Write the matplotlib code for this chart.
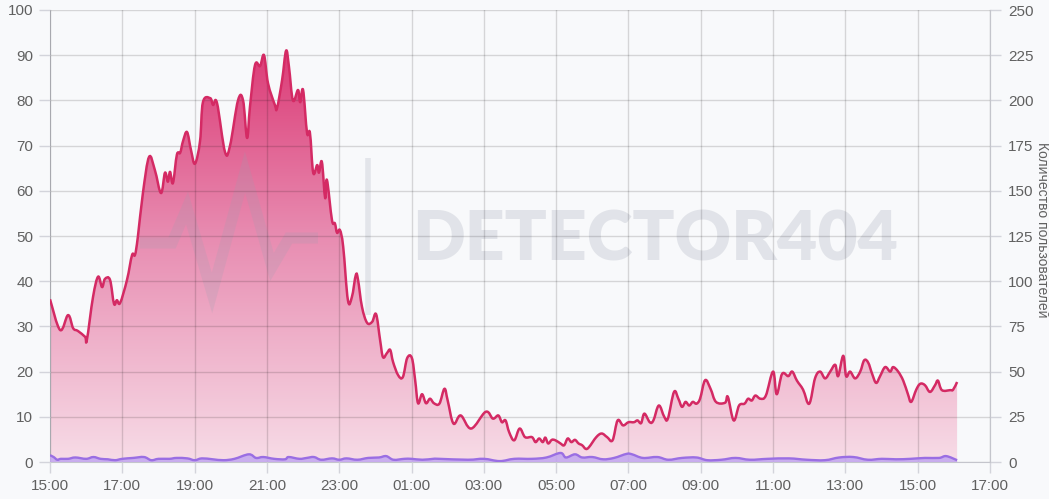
import numpy as np
import matplotlib.pyplot as plt
from matplotlib.colors import LinearSegmentedColormap
from matplotlib.patches import PathPatch
from matplotlib.path import Path

# hours since 15:00, left-axis values
hours = [0.00, 0.28, 0.50, 0.64, 0.77, 0.97, 1.02, 1.19, 1.33, 1.44, 1.52, 1.66, 1.77, 1.85, 1.94,
         2.13, 2.27, 2.35, 2.43, 2.57, 2.74, 2.90, 3.07, 3.18, 3.26, 3.32, 3.40, 3.51, 3.60, 3.68,
         3.79, 3.90, 4.01, 4.15, 4.23, 4.43, 4.51, 4.62, 4.84, 4.98, 5.20, 5.34, 5.45, 5.53, 5.67,
         5.81, 5.92, 6.03, 6.22, 6.28, 6.42, 6.53, 6.61, 6.72, 6.86, 6.92, 7.00, 7.11, 7.19, 7.28,
         7.39, 7.44, 7.52, 7.61, 7.66, 7.80, 7.88, 7.94, 8.02, 8.11, 8.24, 8.35, 8.46, 8.52, 8.63,
         8.77, 8.91, 9.02, 9.13, 9.21, 9.32, 9.41, 9.49, 9.63, 9.76, 9.88, 10.01, 10.10, 10.18, 10.29,
         10.40, 10.51, 10.62, 10.77, 10.91, 11.00, 11.16, 11.36, 11.65, 12.05, 12.25, 12.40, 12.50, 12.60, 12.70,
         12.84, 12.99, 13.14, 13.33, 13.43, 13.53, 13.63, 13.70, 13.78, 13.88, 13.98, 14.12, 14.22, 14.32, 14.42,
         14.52, 14.62, 14.72, 14.82, 14.91, 15.11, 15.26, 15.41, 15.56, 15.70, 15.85, 16.00, 16.15, 16.25, 16.35,
         16.44, 16.59, 16.69, 16.84, 16.99, 17.09, 17.26, 17.38, 17.48, 17.58, 17.68, 17.78, 17.88, 17.98, 18.12,
         18.27, 18.42, 18.67, 18.75, 18.91, 19.06, 19.21, 19.31, 19.41, 19.51, 19.65, 19.80, 20.00, 20.10, 20.25,
         20.42, 20.53, 20.66, 20.83, 21.00, 21.16, 21.30, 21.44, 21.58, 21.72, 21.80, 21.94, 22.02, 22.13, 22.27,
         22.41, 22.52, 22.63, 22.74, 22.85, 22.96, 23.10, 23.24, 23.32, 23.46, 23.60, 23.73, 23.82, 23.96, 24.07,
         24.20, 24.34, 24.48, 24.56, 24.67, 24.90, 24.98, 25.09]
visits = [36, 29.2, 32.5, 29.6, 29, 27.7, 27, 36.5, 41, 38.7, 40.5, 40.3, 35, 35.8, 35.2,
          40.3, 45.8, 45.8, 49.8, 59.5, 67.5, 64.6, 59.5, 64, 62, 64.2, 61.7, 68, 68.4, 71,
          73, 69, 66, 71, 79.6, 80.5, 79, 79.4, 68.6, 70, 80, 80, 71.7, 78.5, 87.8,
          87.6, 90, 83.8, 79, 78.3, 84.5, 91, 87.4, 80, 82.3, 79.6, 82.3, 72.8, 72.8, 64,
          65.7, 64, 66.4, 58.4, 62.4, 53.5, 52.8, 50.7, 51.3, 47.6, 35.8, 36.5, 41.4, 40.3, 34.3,
          30.8, 31, 32.7, 27, 23.2, 24.1, 24.8, 22.1, 19.2, 18.8, 23, 23, 18.1, 13, 15,
          13, 14, 13, 12.9, 16.2, 13.6, 8.5, 10.3, 7.4, 11.1, 9.6, 10.3, 8.8, 9.2, 6.6,
          4.8, 7.4, 5.5, 5.5, 4.4, 5.2, 4.4, 5.4, 4.1, 4.9, 4.8, 4.1, 3.7, 5.2, 4.4,
          4.9, 4.1, 3.7, 2.9, 3.3, 5.5, 6.3, 5.5, 4.8, 9.2, 8.1, 8.8, 8.8, 9.2, 8.6,
          10.7, 8.8, 9.2, 12.5, 10.0, 9.6, 15.5, 14.0, 12.2, 13.3, 12.5, 13.3, 12.9, 14.0, 18.1,
          16.2, 13.3, 13.1, 14.4, 9.2, 12.5, 12.9, 14.0, 13.6, 14.7, 14.0, 14.7, 20, 15, 19.5,
          19, 20, 18, 16, 12.9, 18.5, 20, 18.5, 20, 21.5, 19, 23.5, 19, 20, 18.5,
          20, 22.5, 22, 19.5, 17.5, 19, 21, 20, 21, 20, 18, 15, 13.3, 16, 17.3,
          17, 15.5, 17, 18, 15.9, 15.9, 16, 17.7]

users_t = [0.0, 0.1, 0.2, 0.3, 0.5, 0.7, 1.0, 1.2, 1.4, 1.6, 1.8, 2.0, 2.3, 2.6, 2.8,
           3.0, 3.3, 3.5, 3.8, 4.0, 4.2, 4.5, 4.8, 5.1, 5.5, 5.7, 5.9, 6.2, 6.5, 6.6,
           6.9, 7.1, 7.3, 7.5, 7.8, 8.0, 8.2, 8.5, 8.8, 9.1, 9.3, 9.5, 9.8, 10.0, 10.3,
           10.6, 10.77, 11.56, 12.0, 12.44, 12.84, 13.33, 13.73, 14.12, 14.27, 14.52, 14.72, 15.0, 15.3, 15.6,
           15.95, 16.1, 16.4, 16.8, 17.1, 17.48, 17.88, 18.18, 18.57, 18.96, 19.36, 19.85, 20.44, 20.93, 21.43,
           21.83, 22.22, 22.62, 23.01, 23.4, 23.8, 24.2, 24.59, 24.79, 25.09]
users = [1.5, 1.1, 0.5, 0.7, 0.7, 1.0, 0.7, 1.1, 0.7, 0.6, 0.4, 0.7, 0.9, 1.1, 0.4,
         0.7, 0.7, 0.9, 0.8, 0.4, 0.8, 0.6, 0.4, 0.7, 1.7, 0.9, 1.1, 0.7, 0.6, 1.1,
         0.7, 0.9, 1.1, 0.5, 0.8, 0.5, 0.8, 0.5, 0.9, 1.0, 1.3, 0.5, 0.7, 0.7, 0.5,
         0.7, 0.7, 0.5, 0.7, 0.2, 0.7, 0.7, 1.0, 2.0, 1.0, 1.7, 1.0, 1.1, 0.6, 0.9,
         1.8, 1.7, 0.9, 1.1, 0.5, 0.9, 1.0, 0.4, 0.5, 0.9, 0.5, 0.7, 0.8, 0.5, 0.4,
         1.0, 1.1, 0.5, 0.7, 0.6, 0.7, 0.9, 0.9, 1.3, 0.4]

x_ticks = list(range(0, 27, 2))
x_labels = ['15:00', '17:00', '19:00', '21:00', '23:00', '01:00', '03:00', '05:00',
            '07:00', '09:00', '11:00', '13:00', '15:00', '17:00']
left_ticks = list(range(0, 101, 10))
right_ticks = list(range(0, 251, 25))

bg = '#f8f9fb'
txt_c = '#606060'
plt.rcParams['font.family'] = ['Liberation Sans', 'DejaVu Sans']


def smooth_path(x, y, k=0.18, close=False):
    # curved line through the points (bezier segments, like chart.js tension)
    p = np.column_stack([x, y]).astype(float)
    n = len(p)
    verts = [p[0]]
    codes = [Path.MOVETO]
    for i in range(n - 1):
        a = p[i - 1] if i > 0 else p[i]
        b = p[i + 2] if i + 2 < n else p[i + 1]
        c1 = p[i] + (p[i + 1] - a) * k
        c2 = p[i + 1] - (b - p[i]) * k
        verts += [c1, c2, p[i + 1]]
        codes += [Path.CURVE4] * 3
    if close:
        verts += [(x[-1], 0), (x[0], 0), p[0]]
        codes += [Path.LINETO, Path.LINETO, Path.CLOSEPOLY]
    return Path(verts, codes)


fig = plt.figure(figsize=(10.49, 4.99), dpi=100, facecolor=bg)
ax = fig.add_axes([50/1049, 37/499, 940/1049, 452/499])
ax.set_facecolor(bg)

# gradient fill under the main series
cmap = LinearSegmentedColormap.from_list('pk', ['#f7dce7', '#e88cb1', '#d92a6a'])
grad = np.linspace(0, 1, 256).reshape(-1, 1)
im = ax.imshow(grad, extent=[0, 26, 0, 100], origin='lower', aspect='auto', cmap=cmap, zorder=1)
clip = PathPatch(smooth_path(hours, visits, close=True), transform=ax.transData,
                 facecolor='none', edgecolor='none')
ax.add_patch(clip)
im.set_clip_path(clip)
ax.add_patch(PathPatch(smooth_path(hours, visits), facecolor='none', edgecolor='#d42a64',
                       lw=1.8, zorder=4, joinstyle='round'))

ax.add_patch(PathPatch(smooth_path(users_t, users, close=True), facecolor='#c2a6f0',
                       alpha=0.85, lw=0, zorder=3))
ax.add_patch(PathPatch(smooth_path(users_t, users), facecolor='none', edgecolor='#9a6ee3',
                       lw=1.7, zorder=4))

# watermark
wm = dict(transform=ax.transAxes, zorder=2)
ax.text(0.6436, 0.49, 'DETECTOR404', fontsize=50, family='Lato', fontweight='heavy',
        color='#9aa0b0', alpha=0.24, ha='center', va='center', **wm)
px = np.array([140, 172, 187, 212, 245, 272, 289, 318])
py = np.array([243, 243, 208, 293, 172, 267, 238, 238])
ax.plot((px - 50) / 940, (462 - py) / 452, color='#9aa0b0', alpha=0.2, lw=8,
        solid_joinstyle='miter', solid_capstyle='butt', **wm)
ax.plot([(368 - 50) / 940] * 2, [(462 - 158) / 452, (462 - 315) / 452], color='#9aa0b0',
        alpha=0.22, lw=4, solid_capstyle='butt', **wm)

ax.set_xlim(0, 26)
ax.set_ylim(0, 100)
ax.set_xticks(x_ticks)
ax.set_xticklabels(x_labels)
ax.set_yticks(left_ticks)
ax.tick_params(colors='#d3d4db', labelcolor=txt_c, labelsize=11, length=8, width=1, pad=4)
ax.grid(True, color='black', alpha=0.14, lw=1)
ax.set_axisbelow(False)
for gl in ax.get_xgridlines() + ax.get_ygridlines():
    gl.set_zorder(2.5)
for s in ax.spines.values():
    s.set_color('#c4c5cc')
ax.spines['top'].set_visible(False)

ax2 = ax.twinx()
ax2.set_ylim(0, 250)
ax2.set_yticks(right_ticks)
ax2.tick_params(colors='#d3d4db', labelcolor=txt_c, labelsize=11, length=8, width=1, pad=5)
for s in ax2.spines.values():
    s.set_visible(False)
ax2.spines['right'].set_visible(True)
ax2.spines['right'].set_color('#c4c5cc')

fig.text(1035/1049, 1 - 230/499, 'Количество пользователей', rotation=270,
         ha='left', va='center', fontsize=10, color=txt_c)

fig.savefig('out.png', dpi=100, facecolor=bg)
